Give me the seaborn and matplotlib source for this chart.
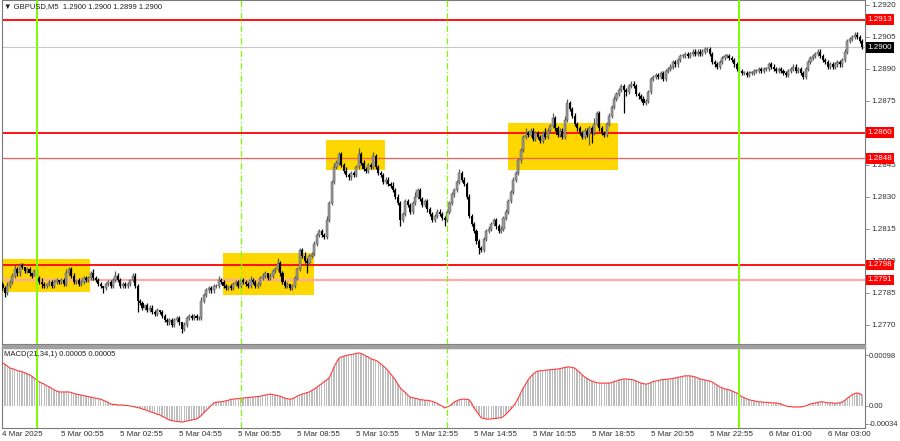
import matplotlib
matplotlib.use("Agg")
from matplotlib import pyplot as plt
from matplotlib.patches import Rectangle
import numpy as np
import pandas as pd
import seaborn as sns

# Price data, M5 bars, stored as pips away from BASE
BASE = 1.2800
PIP = 0.0001
first_open_pips = -11

closes_pips = [
    -13, -15, -12, -10, -7, -4, -6, -2, -3, -5,
    -4, -6, -7, -5, -8, -10, -11, -12, -11, -10,
    -12, -10, -9, -10, -9, -11, -6, -4, -7, -10,
    -9, -11, -10, -8, -9, -8, -6, -8, -9, -11,
    -12, -13, -11, -10, -12, -9, -7, -9, -12, -11,
    -12, -11, -9, -7, -12, -19, -20, -22, -21, -23,
    -22, -24, -25, -23, -24, -26, -28, -29, -28, -30,
    -28, -27, -29, -32, -30, -27, -26, -27, -26, -27,
    -27, -19, -16, -14, -13, -14, -12, -12, -9, -10,
    -12, -13, -12, -13, -11, -10, -12, -9, -10, -11,
    -12, -9, -10, -12, -11, -8, -7, -6, -8, -7,
    -5, -4, -1, -6, -10, -12, -11, -13, -12, -8,
    -4, 5, 2, 0, -1, 2, 3, 8, 12, 14,
    12, 11, 19, 27, 37, 44, 46, 50, 45, 42,
    40, 39, 41, 40, 44, 50, 46, 43, 42, 45,
    44, 49, 44, 41, 40, 37, 38, 36, 35, 33,
    30, 27, 19, 22, 28, 26, 23, 27, 30, 33,
    29, 26, 28, 24, 22, 19, 21, 23, 22, 20,
    19, 23, 27, 31, 33, 37, 41, 38, 36, 30,
    21, 17, 14, 9, 6, 5, 10, 14, 15, 17,
    19, 16, 14, 15, 20, 23, 28, 32, 38, 41,
    47, 52, 58, 60, 59, 61, 57, 60, 58, 56,
    60, 58, 61, 63, 67, 62, 59, 61, 58, 66,
    74, 71, 68, 64, 62, 60, 58, 61, 59, 62,
    60, 64, 69, 62, 60, 59, 64, 68, 72, 76,
    78, 80, 82, 80, 79, 82, 83, 82, 78, 77,
    76, 74, 75, 79, 85, 86, 87, 86, 88, 85,
    89, 90, 91, 93, 92, 94, 96, 96, 97, 96,
    97, 98, 97, 98, 97, 98, 99, 99, 97, 93,
    92, 91, 93, 95, 96, 96, 95, 94, 92, 90,
    89, 88, 88, 87, 88, 88, 89, 89, 90, 89,
    90, 90, 92, 91, 90, 89, 90, 89, 88, 87,
    89, 90, 91, 89, 90, 88, 86, 90, 93, 95,
    96, 97, 98, 96, 94, 93, 91, 92, 91, 92,
    93, 92, 94, 98, 103, 104, 105, 106, 105, 103,
    100,
]

# wick lengths above / below the body, in pips
wick_hi = [
    1, 1, 2, 1, 1, 2, 1, 1, 1, 0,
    1, 1, 0, 1, 1, 1, 2, 1, 0, 1,
    1, 1, 1, 0, 1, 1, 2, 1, 1, 1,
    0, 1, 1, 1, 1, 1, 1, 2, 1, 1,
    1, 0, 1, 1, 1, 1, 2, 1, 1, 1,
    1, 1, 0, 1, 1, 1, 1, 1, 0, 1,
    1, 1, 1, 1, 0, 1, 1, 1, 1, 1,
    1, 1, 1, 0, 1, 1, 1, 1, 1, 1,
    1, 2, 1, 1, 1, 1, 1, 1, 2, 1,
    1, 1, 0, 1, 1, 1, 1, 1, 1, 1,
    1, 2, 1, 1, 1, 1, 1, 1, 0, 1,
    1, 1, 2, 1, 1, 1, 1, 0, 1, 1,
    1, 1, 1, 2, 1, 1, 1, 1, 1, 1,
    1, 1, 2, 1, 1, 2, 1, 1, 1, 1,
    2, 1, 1, 1, 1, 3, 1, 1, 1, 1,
    1, 2, 1, 1, 1, 1, 1, 1, 1, 2,
    1, 1, 1, 1, 1, 1, 1, 1, 2, 1,
    1, 1, 1, 1, 1, 1, 1, 1, 1, 1,
    1, 1, 1, 1, 1, 1, 2, 1, 1, 1,
    1, 1, 1, 1, 1, 1, 1, 1, 1, 1,
    1, 1, 1, 1, 1, 1, 1, 1, 1, 1,
    1, 1, 1, 2, 1, 1, 1, 1, 1, 1,
    1, 2, 1, 1, 2, 1, 1, 1, 1, 2,
    2, 1, 1, 1, 1, 1, 1, 1, 1, 1,
    1, 3, 1, 1, 1, 1, 1, 1, 1, 1,
    1, 1, 1, 1, 1, 1, 1, 1, 1, 1,
    1, 1, 1, 1, 1, 1, 1, 1, 1, 1,
    1, 1, 1, 1, 1, 1, 1, 1, 1, 1,
    1, 1, 1, 1, 1, 1, 1, 1, 1, 1,
    1, 1, 1, 1, 1, 1, 1, 1, 1, 1,
    1, 1, 1, 1, 1, 1, 1, 1, 1, 1,
    1, 1, 1, 1, 1, 1, 1, 1, 1, 1,
    1, 1, 1, 1, 1, 1, 1, 1, 1, 1,
    1, 1, 1, 1, 1, 1, 1, 1, 1, 1,
    1, 1, 1, 1, 1, 1, 1, 1, 1, 1,
    1,
]

wick_lo = [
    1, 2, 1, 1, 1, 1, 1, 1, 1, 1,
    1, 1, 1, 0, 1, 1, 2, 1, 1, 1,
    1, 1, 1, 1, 1, 1, 1, 1, 1, 1,
    1, 1, 1, 1, 1, 1, 1, 1, 1, 1,
    1, 2, 1, 1, 1, 1, 1, 1, 1, 1,
    1, 1, 1, 1, 1, 5, 1, 1, 1, 1,
    1, 1, 1, 1, 1, 1, 1, 1, 1, 1,
    1, 1, 1, 2, 1, 1, 1, 1, 1, 1,
    1, 1, 1, 1, 1, 1, 1, 1, 1, 1,
    1, 1, 1, 1, 1, 1, 1, 1, 1, 1,
    1, 1, 1, 1, 1, 1, 1, 1, 1, 1,
    1, 1, 1, 1, 1, 1, 1, 1, 1, 1,
    1, 1, 1, 1, 5, 1, 1, 1, 1, 1,
    1, 1, 1, 1, 1, 1, 1, 1, 1, 1,
    1, 1, 1, 1, 1, 1, 1, 1, 1, 1,
    1, 1, 1, 1, 1, 1, 1, 1, 1, 1,
    1, 1, 3, 1, 1, 1, 1, 1, 1, 1,
    1, 1, 1, 1, 1, 1, 1, 1, 1, 1,
    3, 1, 1, 1, 1, 1, 1, 1, 1, 1,
    1, 1, 1, 1, 3, 1, 1, 1, 1, 1,
    1, 1, 1, 1, 1, 1, 1, 1, 1, 1,
    1, 1, 1, 1, 1, 1, 1, 1, 1, 1,
    1, 1, 1, 1, 1, 1, 1, 1, 1, 1,
    1, 1, 1, 1, 1, 1, 1, 1, 1, 5,
    5, 1, 1, 1, 1, 1, 1, 1, 1, 1,
    1, 1, 1, 11, 2, 1, 1, 1, 1, 1,
    1, 1, 1, 1, 1, 1, 1, 1, 1, 1,
    1, 1, 1, 1, 1, 1, 1, 1, 1, 1,
    1, 1, 1, 1, 1, 1, 1, 1, 1, 1,
    1, 1, 1, 1, 1, 1, 1, 1, 1, 1,
    1, 1, 1, 1, 1, 1, 1, 1, 1, 1,
    1, 1, 1, 1, 1, 1, 1, 1, 1, 1,
    1, 1, 1, 1, 1, 1, 1, 1, 1, 1,
    1, 1, 1, 1, 1, 1, 1, 1, 1, 1,
    1, 1, 1, 1, 1, 1, 1, 1, 1, 1,
    1,
]

# MACD(21,34,1) main value, in units of 1e-5
macd_e5 = [
    83, 80, 77, 73, 72, 70, 68, 67, 66, 64, 62,
    60, 57, 53, 50, 46, 44, 42, 39, 37, 34,
    31, 29, 27, 27, 27, 27, 27, 26, 24, 23,
    22, 21, 20, 19, 18, 17, 16, 15, 14, 13,
    11, 9, 7, 4, 3, 3, 2, 2, 2, 1,
    1, 0, -1, -2, -3, -4, -6, -7, -9, -11,
    -12, -14, -16, -17, -20, -22, -25, -27, -28, -29,
    -30, -30, -31, -30, -29, -28, -27, -26, -25, -22,
    -18, -13, -8, -4, 1, 6, 7, 8, 8, 9,
    10, 11, 13, 13, 14, 14, 15, 15, 16, 16,
    17, 17, 18, 18, 19, 20, 21, 22, 23, 22,
    21, 20, 19, 17, 15, 14, 13, 14, 16, 19,
    21, 23, 24, 26, 27, 30, 33, 36, 40, 43,
    47, 50, 54, 64, 75, 84, 92, 94, 96, 97,
    98, 99, 100, 101, 102, 101, 99, 96, 94, 91,
    89, 88, 85, 81, 77, 73, 68, 62, 56, 50,
    42, 35, 30, 26, 21, 17, 16, 15, 14, 12,
    12, 11, 11, 10, 9, 7, 5, 2, 0, -4,
    -2, 0, 4, 8, 10, 12, 13, 13, 13, 12,
    6, -4, -10, -17, -23, -24, -25, -25, -25, -24,
    -24, -23, -23, -20, -16, -11, -6, 0, 6, 15,
    25, 34, 42, 50, 56, 61, 65, 67, 68, 68,
    69, 69, 70, 70, 71, 71, 72, 73, 74, 75,
    75, 74, 73, 69, 65, 60, 56, 53, 50, 48,
    46, 45, 44, 44, 44, 44, 44, 45, 47, 48,
    50, 51, 52, 52, 51, 51, 50, 48, 46, 44,
    43, 42, 43, 45, 47, 48, 49, 50, 51, 51,
    52, 52, 53, 54, 55, 56, 57, 58, 58, 58,
    57, 56, 54, 52, 51, 50, 49, 48, 46, 43,
    40, 37, 35, 33, 32, 31, 29, 27, 25, 21,
    18, 16, 14, 12, 11, 10, 9, 8, 8, 7,
    7, 7, 6, 6, 6, 5, 4, 2, 0, -1,
    -1, -2, -2, -2, -2, -1, 0, 2, 4, 5,
    6, 7, 8, 8, 7, 6, 6, 6, 5, 6,
    6, 8, 11, 15, 18, 22, 24, 25, 24, 21,
]

time_labels = ["4 Mar 2025", "5 Mar 00:55", "5 Mar 02:55", "5 Mar 04:55", "5 Mar 06:55",
               "5 Mar 08:55", "5 Mar 10:55", "5 Mar 12:55", "5 Mar 14:55", "5 Mar 16:55",
               "5 Mar 18:55", "5 Mar 20:55", "5 Mar 22:55", "6 Mar 01:00", "6 Mar 03:00"]
price_ticks = [1.2770, 1.2785, 1.2800, 1.2815, 1.2830, 1.2845, 1.2875, 1.2890, 1.2905, 1.2920]
strong_levels = [1.2913, 1.2860, 1.2798]
weak_levels = [1.2848]
pink_levels = [1.2791]
last_price = 1.2900
# yellow zones: first bar, last bar, top, bottom
zone_start = [-1.0, 89.8, 131.7, 205.8]
zone_end = [35.7, 126.8, 155.7, 250.6]
zone_top = [1.28008, 1.28036, 1.28566, 1.28646]
zone_bottom = [1.27853, 1.27839, 1.28425, 1.28425]
day_lines = [14, 300]
session_lines = [97, 181]
macd_ticks = [0.00098, 0.0, -0.00034]
macd_tick_labels = ["0.00098", "0.00", "-0.00034"]


def build_frame():
    close = BASE + np.array(closes_pips) * PIP
    df = pd.DataFrame({"close": close})
    df["open"] = df["close"].shift(1).fillna(BASE + first_open_pips * PIP)
    top = df[["open", "close"]].max(axis=1)
    bot = df[["open", "close"]].min(axis=1)
    df["high"] = top + np.array(wick_hi) * PIP
    df["low"] = bot - np.array(wick_lo) * PIP
    df["body_bottom"] = bot
    df["body_height"] = np.maximum(top - bot, 0.3 * PIP)
    df["bull"] = df["close"] >= df["open"]
    df["macd"] = np.array(macd_e5) * 1e-5
    df["bar"] = np.arange(len(df))
    return df


def main():
    sns.set_style("white")
    plt.rcParams["font.family"] = ["Liberation Sans", "DejaVu Sans"]
    df = build_frame()

    fig = plt.figure(figsize=(9, 4.41), dpi=100)
    W, H = 900.0, 441.0
    ax = fig.add_axes([2 / W, 1 - 344 / H, 863 / W, 344 / H])
    ax_m = fig.add_axes([2 / W, 1 - 428 / H, 863 / W, 80 / H], sharex=ax)
    fig.patches.append(Rectangle((2 / W, 1 - 347.5 / H), 863 / W, 3 / H,
                                 transform=fig.transFigure, color="#a0a0a0", zorder=5))

    # zones
    for x0, x1, y1, y0 in zip(zone_start, zone_end, zone_top, zone_bottom):
        ax.add_patch(Rectangle((x0, y0), x1 - x0, y1 - y0, color="#ffd700", lw=0, zorder=1))

    ax.axhline(last_price, color="#c8c8c8", lw=0.8, zorder=2)
    for lv in strong_levels:
        ax.axhline(lv, color="#ff0000", lw=1.3, zorder=2)
    for lv in weak_levels:
        ax.axhline(lv, color="#ff5a5a", lw=0.9, zorder=2)
    for lv in pink_levels:
        ax.axhline(lv, color="#ffa8a8", lw=1.6, zorder=2)

    # candles
    bull = df[df["bull"]]
    bear = df[~df["bull"]]
    ax.vlines(bull["bar"], bull["low"], bull["high"], colors="#5a5a5a", lw=0.9, zorder=3)
    ax.vlines(bear["bar"], bear["low"], bear["high"], colors="#000000", lw=0.9, zorder=3)
    ax.bar(bull["bar"], bull["body_height"], bottom=bull["body_bottom"], width=0.85,
           color="#9c9c9c", edgecolor="#555555", lw=0.35, zorder=3)
    ax.bar(bear["bar"], bear["body_height"], bottom=bear["body_bottom"], width=0.85,
           color="#000000", lw=0, zorder=3)

    # MACD
    ax_m.bar(df["bar"], df["macd"], width=0.55, color="#bdbdbd", lw=0, zorder=2)
    sns.lineplot(x=df["bar"], y=df["macd"], ax=ax_m, color="#ff3c3c", lw=0.8, zorder=3)

    for a in (ax, ax_m):
        for d in day_lines:
            a.axvline(d, color="#7cfc00", lw=1.4, zorder=4)
        for s in session_lines:
            a.axvline(s, color="#7cfc00", lw=0.9, ls=(0, (5, 2, 1, 2)), zorder=4)
        for sp in a.spines.values():
            sp.set_color("#7a7a7a")
            sp.set_linewidth(0.8)
        a.yaxis.tick_right()
        a.tick_params(axis="y", direction="out", length=3, width=0.6, colors="#7a7a7a",
                      labelcolor="#303030", labelsize=5.8, pad=1.5)
    ax_m.tick_params(axis="y", length=2, labelsize=5.4, pad=1)

    ax.set_xlim(-0.2, 351.2)
    ax.set_ylim(1.27609, 1.29222)
    ax.set_yticks(price_ticks)
    ax.set_yticklabels([f"{p:.4f}" for p in price_ticks])
    ax.tick_params(axis="x", bottom=False, labelbottom=False)
    ax.set_xlabel("")
    ax.set_ylabel("")

    ax_m.set_ylim(-0.000423, 0.001115)
    ax_m.set_yticks(macd_ticks)
    ax_m.set_yticklabels(macd_tick_labels)
    ax_m.set_xticks(np.arange(len(time_labels)) * 24)
    ax_m.set_xticklabels(time_labels, ha="left")
    ax_m.tick_params(axis="x", direction="out", length=2, width=0.6, colors="#7a7a7a",
                     labelcolor="#303030", labelsize=5.8, pad=0.5)
    ax_m.set_xlabel("")
    ax_m.set_ylabel("")

    # price tags on the right scale
    tag_kw = dict(transform=ax.get_yaxis_transform(), ha="left", va="center",
                  color="white", fontsize=5.8, zorder=10, clip_on=False)
    for lv in strong_levels + weak_levels + pink_levels:
        ax.text(1.003, lv, f"{lv:.4f}", bbox=dict(boxstyle="square,pad=0.22", fc="#ff0000", ec="none"), **tag_kw)
    ax.text(1.003, last_price, f"{last_price:.4f}",
            bbox=dict(boxstyle="square,pad=0.22", fc="#000000", ec="none"), **tag_kw)

    fig.text(4 / W, 1 - 7 / H, "\u25bc GBPUSD,M5  1.2900 1.2900 1.2899 1.2900",
             fontsize=5.5, color="#202020", va="center", ha="left")
    fig.text(4 / W, 1 - 355 / H, "MACD(21,34,1) 0.00005 0.00005",
             fontsize=5.5, color="#202020", va="center", ha="left")

    fig.savefig("out.png", dpi=100, facecolor="white")


if __name__ == "__main__":
    main()
